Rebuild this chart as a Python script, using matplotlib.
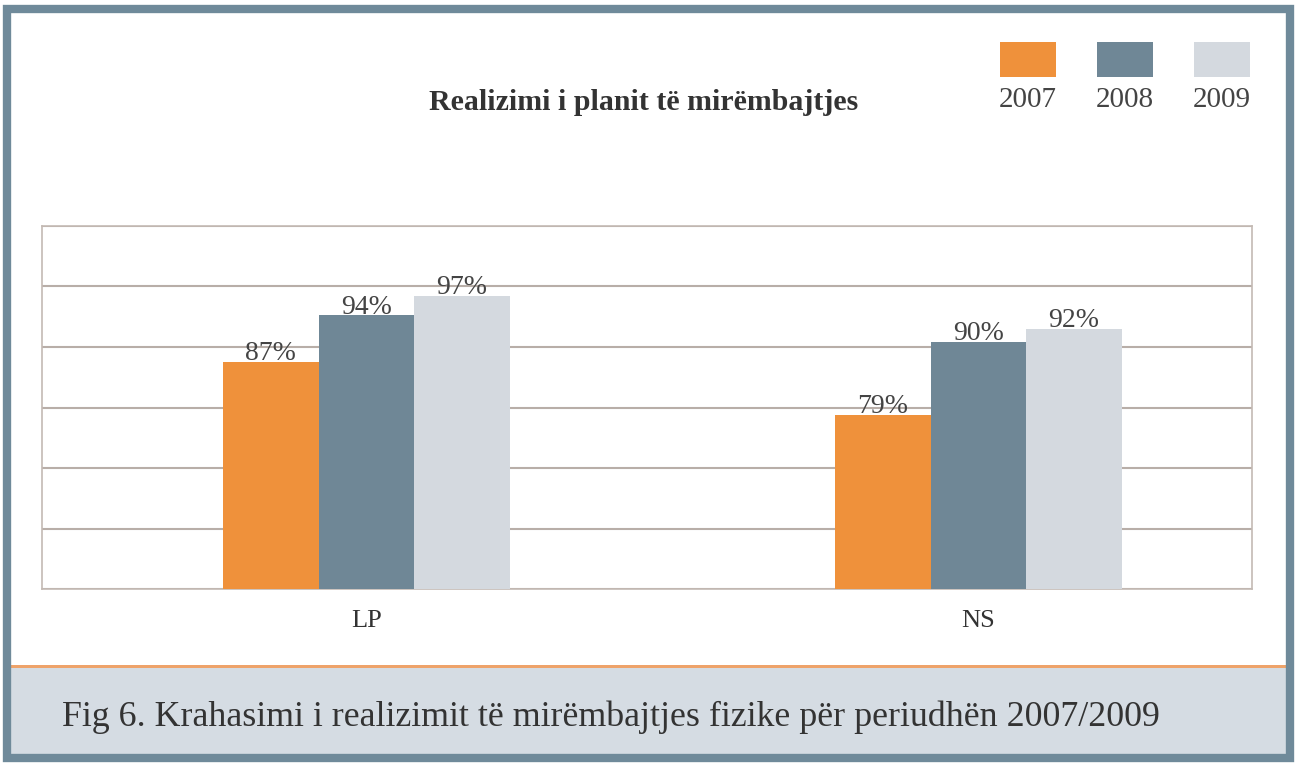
import matplotlib.pyplot as plt
from matplotlib.patches import Rectangle
import numpy as np

categories = ["LP", "NS"]
years = ["2007", "2008", "2009"]
values_2007 = [87, 79]
values_2008 = [94, 90]
values_2009 = [97, 92]
colors = ["#ef913b", "#6f8796", "#d4d9df"]

title = "Realizimi i planit të mirëmbajtjes"
caption = "Fig 6. Krahasimi i realizimit të mirëmbajtjes fizike për periudhën 2007/2009"

plt.rcParams['font.family'] = ['Liberation Serif', 'DejaVu Serif']

fig = plt.figure(figsize=(12.98, 7.64), dpi=100)
W, H = 1298, 764

# outer frame and caption band
fig.patches.append(Rectangle((0, 0), 1, 1, transform=fig.transFigure,
                             facecolor="white", edgecolor="none", zorder=-10))
fig.patches.append(Rectangle((3 / W, 1 - 760 / H), 1284 / W, 92 / H,
                             transform=fig.transFigure, facecolor="#d5dce3",
                             edgecolor="none", zorder=-5))
fig.patches.append(Rectangle((3 / W, 1 - 668 / H), 1284 / W, 3 / H,
                             transform=fig.transFigure, facecolor="#eea36a",
                             edgecolor="none", zorder=-4))
fig.patches.append(Rectangle((7 / W, 1 - 758 / H), 1283 / W, 749 / H,
                             transform=fig.transFigure, facecolor="none",
                             edgecolor="#6f8a9a", linewidth=6, zorder=-3))

ax = fig.add_axes([42 / W, 1 - 589 / H, 1210 / W, 363 / H])
x = np.arange(len(categories))
w = 0.156
series = [values_2007, values_2008, values_2009]
for i, (vals, c) in enumerate(zip(series, colors)):
    bars = ax.bar(x + (i - 1) * w, vals, w, color=c, zorder=3)
    ax.bar_label(bars, labels=[f"{v}%" for v in vals], padding=-3,
                 fontsize=20, color="#444444", zorder=4)

ylo, yhi = 52.7, 107.5
ax.set_ylim(ylo, yhi)
ax.set_xlim(-0.530, 1.447)
ax.set_yticks(np.linspace(ylo, yhi, 7))
ax.yaxis.grid(True, color="#b8aea8", linewidth=1.5, zorder=0)
ax.tick_params(axis="y", left=False, labelleft=False)
ax.set_xticks(x)
ax.set_xticklabels(categories, fontsize=19, color="#333333")
ax.tick_params(axis="x", length=0, pad=15)
for s in ax.spines.values():
    s.set_color("#c4bab4")
    s.set_linewidth(1.2)

fig.text(644 / W, 1 - 103 / H, title, ha="center", va="center",
         fontsize=21.5, fontweight="bold", color="#333333")

# legend: swatch above label
legend_x = [1028, 1125, 1222]
for lx, yr, c in zip(legend_x, years, colors):
    fig.patches.append(Rectangle(((lx - 28) / W, 1 - 77 / H), 56 / W, 35 / H,
                                 transform=fig.transFigure, facecolor=c,
                                 edgecolor="none"))
    fig.text(lx / W, 1 - 100 / H, yr, ha="center", va="center",
             fontsize=21, color="#444444")

fig.text(62 / W, 1 - 717 / H, caption, ha="left", va="center",
         fontsize=25.8, color="#333333")

fig.savefig("out.png", dpi=100)
